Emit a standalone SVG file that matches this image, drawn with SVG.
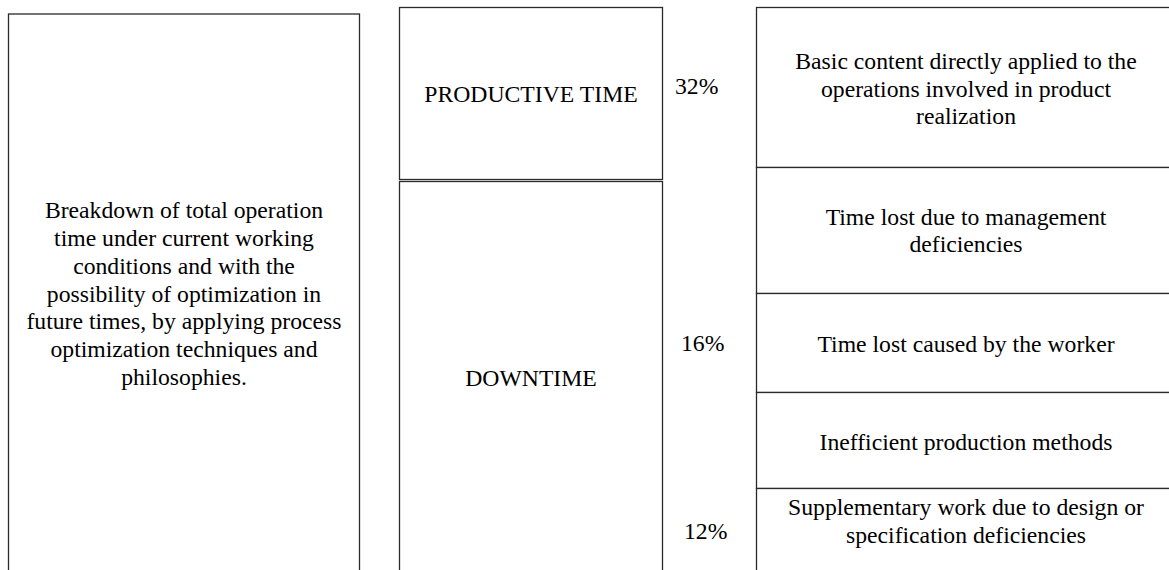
<svg xmlns="http://www.w3.org/2000/svg" width="1169" height="570" viewBox="0 0 1169 570">
  <style>
    .box { fill: #ffffff; stroke: #2a2a2a; stroke-width: 1.3; }
    .t { font-family: "Liberation Serif", "Times New Roman", serif; font-size: 23.7px; fill: #000000; }
    .c { text-anchor: middle; }
  </style>
  <rect width="1169" height="570" fill="#ffffff"/>

  <!-- Description panel -->
  <g id="description">
    <rect class="box" x="8.5" y="14" width="351" height="600"/>
    <text class="t c" x="184" y="218">Breakdown of total operation</text>
    <text class="t c" x="184" y="246">time under current working</text>
    <text class="t c" x="184" y="274">conditions and with the</text>
    <text class="t c" x="184" y="302">possibility of optimization in</text>
    <text class="t c" x="184" y="329">future times, by applying process</text>
    <text class="t c" x="184" y="357">optimization techniques and</text>
    <text class="t c" x="184" y="385">philosophies.</text>
  </g>

  <!-- Time categories -->
  <g id="productive-time">
    <rect class="box" x="399.5" y="7.5" width="263" height="172"/>
    <text class="t c" x="531" y="102">PRODUCTIVE TIME</text>
  </g>
  <g id="downtime">
    <rect class="box" x="399.5" y="181.5" width="263" height="420"/>
    <text class="t c" x="531" y="386">DOWNTIME</text>
  </g>

  <!-- Percentages -->
  <g id="percentages">
    <text class="t" x="675" y="94">32%</text>
    <text class="t" x="681" y="351">16%</text>
    <text class="t" x="684" y="539">12%</text>
  </g>

  <!-- Breakdown cells -->
  <g id="basic-content">
    <rect class="box" x="756.5" y="7.5" width="420" height="160"/>
    <text class="t c" x="966" y="69">Basic content directly applied to the</text>
    <text class="t c" x="966" y="97">operations involved in product</text>
    <text class="t c" x="966" y="124">realization</text>
  </g>
  <g id="management-loss">
    <rect class="box" x="756.5" y="167.5" width="420" height="126"/>
    <text class="t c" x="966" y="225">Time lost due to management</text>
    <text class="t c" x="966" y="252">deficiencies</text>
  </g>
  <g id="worker-loss">
    <rect class="box" x="756.5" y="293.5" width="420" height="99"/>
    <text class="t c" x="966" y="352">Time lost caused by the worker</text>
  </g>
  <g id="inefficient-methods">
    <rect class="box" x="756.5" y="392.5" width="420" height="96"/>
    <text class="t c" x="966" y="450">Inefficient production methods</text>
  </g>
  <g id="supplementary-work">
    <rect class="box" x="756.5" y="488.5" width="420" height="120"/>
    <text class="t c" x="966" y="515">Supplementary work due to design or</text>
    <text class="t c" x="966" y="543">specification deficiencies</text>
  </g>

  <g id="connectors"></g>
</svg>
